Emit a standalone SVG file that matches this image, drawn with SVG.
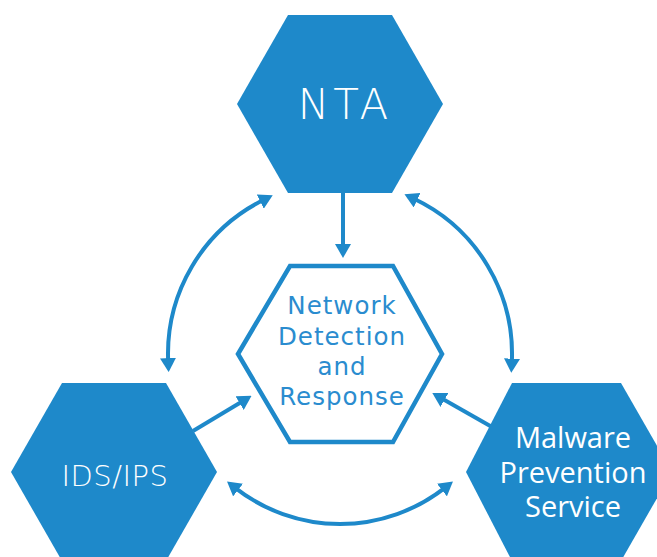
<svg xmlns="http://www.w3.org/2000/svg" width="657" height="557" viewBox="0 0 657 557">
<style>
.hex{fill:#1e89ca}
.outline{fill:none;stroke:#1e89ca;stroke-width:4.5;stroke-linejoin:miter}
.conn{fill:none;stroke:#1e89ca;stroke-width:4}
.wt{fill:#fff;font-family:"DejaVu Sans",sans-serif;text-anchor:middle}
.ct{fill:#2a8ccf;font-family:"DejaVu Sans",sans-serif;font-size:24.5px;text-anchor:middle;letter-spacing:1px}
.mt{fill:#fff;font-family:"Open Sans","Liberation Sans",sans-serif;font-size:29px;text-anchor:middle}
</style>
<defs>
<marker id="ah" viewBox="0 0 14 16" refX="4" refY="8" markerWidth="14" markerHeight="16" markerUnits="userSpaceOnUse" orient="auto-start-reverse">
<path d="M0,0 L14,8 L0,16 Z" fill="#1e89ca"/>
</marker>
</defs>
<rect width="657" height="557" fill="#fff"/>
<g id="connectors">
<path class="conn" d="M343,193 L343,248" marker-end="url(#ah)"/>
<path class="conn" d="M168.2,362.1 A172,172 0 0 1 263.8,199.8" marker-start="url(#ah)" marker-end="url(#ah)"/>
<path class="conn" d="M413.5,198.5 A172,172 0 0 1 511.8,362.7" marker-start="url(#ah)" marker-end="url(#ah)"/>
<path class="conn" d="M445.1,487.6 A170,170 0 0 1 234.9,487.6" marker-start="url(#ah)" marker-end="url(#ah)"/>
<path class="conn" d="M193,431 L243,401" marker-end="url(#ah)"/>
<path class="conn" d="M492,427 L441,398" marker-end="url(#ah)"/>
</g>
<g id="nta">
<polygon class="hex" points="237,104 288,15 392,15 443,104 392,193 288,193"/>
<text class="wt" x="345" y="119" font-size="42" font-weight="300" letter-spacing="4">NTA</text>
</g>
<g id="ndr">
<polygon class="outline" points="238,354 290,266 393,266 442,354 393,442 290,442"/>
<text class="ct" x="342" y="314">Network</text>
<text class="ct" x="342" y="345">Detection</text>
<text class="ct" x="342" y="375">and</text>
<text class="ct" x="342" y="405">Response</text>
</g>
<g id="ids">
<polygon class="hex" points="11,472 62,383 166,383 217,472 166,561 62,561"/>
<text class="wt" x="115" y="486" font-size="29" font-weight="300" letter-spacing="0.5">IDS/IPS</text>
</g>
<g id="mps">
<polygon class="hex" points="466,472 512,383 621,383 672,472 621,561 512,561"/>
<text class="mt" x="573" y="448">Malware</text>
<text class="mt" x="573" y="483">Prevention</text>
<text class="mt" x="573" y="517">Service</text>
</g>
</svg>
